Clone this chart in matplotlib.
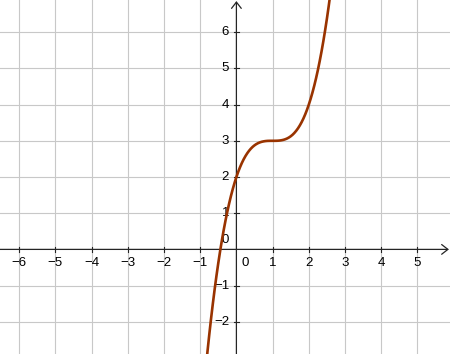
import matplotlib
matplotlib.use("Agg")
import matplotlib.pyplot as plt

# curve points
curve_x = [-0.85, -0.80, -0.75, -0.70, -0.65, -0.60, -0.55, -0.50, -0.45, -0.40,
           -0.35, -0.30, -0.25, -0.20, -0.15, -0.10, -0.05, 0.00, 0.05, 0.10,
           0.15, 0.20, 0.25, 0.30, 0.35, 0.40, 0.45, 0.50, 0.55, 0.60,
           0.65, 0.70, 0.75, 0.80, 0.85, 0.90, 0.95, 1.00, 1.05, 1.10,
           1.15, 1.20, 1.25, 1.30, 1.35, 1.40, 1.45, 1.50, 1.55, 1.60,
           1.65, 1.70, 1.75, 1.80, 1.85, 1.90, 1.95, 2.00, 2.05, 2.10,
           2.15, 2.20, 2.25, 2.30, 2.35, 2.40, 2.45, 2.50, 2.55, 2.60]
curve_y = [-3.332, -2.832, -2.359, -1.913, -1.492, -1.096, -0.724, -0.375, -0.049, 0.256,
           0.540, 0.803, 1.047, 1.272, 1.479, 1.669, 1.842, 2.000, 2.143, 2.271,
           2.386, 2.488, 2.578, 2.657, 2.725, 2.784, 2.834, 2.875, 2.909, 2.936,
           2.957, 2.973, 2.984, 2.992, 2.997, 2.999, 3.000, 3.000, 3.000, 3.001,
           3.003, 3.008, 3.016, 3.027, 3.043, 3.064, 3.091, 3.125, 3.166, 3.216,
           3.275, 3.343, 3.422, 3.512, 3.614, 3.729, 3.857, 4.000, 4.158, 4.331,
           4.521, 4.728, 4.953, 5.197, 5.460, 5.744, 6.049, 6.375, 6.724, 7.096]

x_ticks = [-6, -5, -4, -3, -2, -1, 1, 2, 3, 4, 5]
y_ticks = [-2, -1, 1, 2, 3, 4, 5, 6]

xmin, xmax = -6.53, 5.90
ymin, ymax = -2.89, 6.89

plt.rcParams['font.family'] = ['Liberation Sans', 'DejaVu Sans']

fig = plt.figure(figsize=(4.5, 3.54), dpi=100)
ax = fig.add_axes([0, 0, 1, 1])
ax.set_xlim(xmin, xmax)
ax.set_ylim(ymin, ymax)
for s in ax.spines.values():
  s.set_visible(False)
ax.set_xticks([])
ax.set_yticks([])

axis_col = "#252525"
grid_col = "#c8c8c8"
for gx in range(-7, 7):
  if gx != 0:
    ax.axvline(gx, color=grid_col, lw=0.8, zorder=1)
for gy in range(-3, 8):
  if gy != 0:
    ax.axhline(gy, color=grid_col, lw=0.8, zorder=1)

# axes with open arrow heads
arrow = dict(arrowstyle='->,head_length=0.45,head_width=0.35', color=axis_col,
             lw=0.9, mutation_scale=10, shrinkA=0, shrinkB=0)
ax.annotate('', xy=(xmax - 0.03, 0), xytext=(xmin, 0), arrowprops=arrow, zorder=2)
ax.annotate('', xy=(0, ymax - 0.03), xytext=(0, ymin), arrowprops=arrow, zorder=2)

# tick marks and labels
for t in x_ticks:
  ax.plot([t, t], [-0.07, 0.07], color=axis_col, lw=0.8, zorder=2)
  ax.text(t, -0.22, str(t).replace('-', '\u2212'), ha='center', va='top',
          fontsize=9.5, color='black', zorder=4)
for t in y_ticks:
  ax.plot([-0.07, 0.07], [t, t], color=axis_col, lw=0.8, zorder=2)
  ax.text(-0.2, t, str(t).replace('-', '\u2212'), ha='right', va='center',
          fontsize=9.5, color='black', zorder=4)
ax.text(-0.2, 0.25, '0', ha='right', va='center', fontsize=9.5, zorder=4)
ax.text(0.25, -0.22, '0', ha='center', va='top', fontsize=9.5, zorder=4)

ax.plot(curve_x, curve_y, color='#993300', lw=1.9, solid_capstyle='round', zorder=5)

fig.savefig("out.png", dpi=100)
